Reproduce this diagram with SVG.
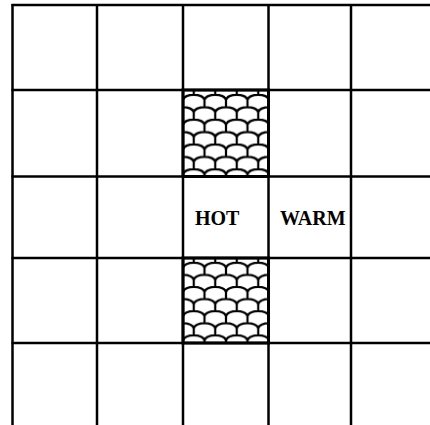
<svg xmlns="http://www.w3.org/2000/svg" width="430" height="425" viewBox="0 0 430 425">
  <style>
    .grid line { stroke: #000; stroke-width: 2.5; }
    .scale { stroke: #000; stroke-width: 2.2; fill: none; }
    .lbl { font-family: "Liberation Serif", "Times New Roman", serif; font-weight: bold; font-size: 20px; fill: #000; }
    .hotcell { stroke: #000; stroke-width: 3; }
  </style>
  <defs>
    <pattern id="scales1" patternUnits="userSpaceOnUse" x="183" y="90" width="21.5" height="24.8">
      <rect width="21.5" height="24.8" fill="#fff"/>
      <path class="scale" d="M0,10 C1,3 20.5,3 21.5,10 M0,9 V17.2 M21.5,9 V17.2 M-10.75,22.4 C-9.75,15.4 9.75,15.4 10.75,22.4 C11.75,15.4 31.25,15.4 32.25,22.4 M10.75,21.4 V26 M10.75,-1 V4.8"/>
    </pattern>
    <pattern id="scales2" patternUnits="userSpaceOnUse" x="183" y="258" width="21.5" height="24.2">
      <rect width="21.5" height="24.2" fill="#fff"/>
      <path class="scale" d="M0,10 C1,3 20.5,3 21.5,10 M0,9 V16.9 M21.5,9 V16.9 M-10.75,22.1 C-9.75,15.1 9.75,15.1 10.75,22.1 C11.75,15.1 31.25,15.1 32.25,22.1 M10.75,21.1 V25.5 M10.75,-1 V4.8"/>
    </pattern>
  </defs>
  <rect width="430" height="425" fill="#fff"/>
  <g id="cell-upper">
    <rect class="hotcell" x="183" y="90" width="85.5" height="86.5" fill="url(#scales1)"/>
  </g>
  <g id="cell-lower">
    <rect class="hotcell" x="183" y="258" width="85.5" height="85" fill="url(#scales2)"/>
  </g>
  <g id="grid" class="grid">
    <line x1="12.5" y1="4" x2="12.5" y2="425"/>
    <line x1="97" y1="4" x2="97" y2="425"/>
    <line x1="183" y1="4" x2="183" y2="425"/>
    <line x1="268.5" y1="4" x2="268.5" y2="425"/>
    <line x1="351" y1="4" x2="351" y2="425"/>
    <line x1="11.5" y1="5" x2="430" y2="5"/>
    <line x1="11.5" y1="90" x2="430" y2="90"/>
    <line x1="11.5" y1="176.5" x2="430" y2="176.5"/>
    <line x1="11.5" y1="258" x2="430" y2="258"/>
    <line x1="11.5" y1="343" x2="430" y2="343"/>
  </g>
  <g id="label-hot"><text class="lbl" x="195" y="225">HOT</text></g>
  <g id="label-warm"><text class="lbl" x="280" y="225">WARM</text></g>
</svg>
